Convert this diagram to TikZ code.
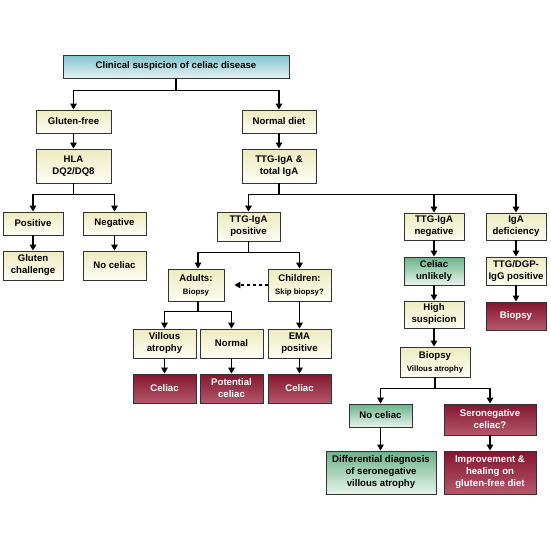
\documentclass[tikz,border=0pt]{standalone}
\usepackage{fontspec}
\setmainfont{Liberation Sans}
\usetikzlibrary{arrows.meta}
\definecolor{yelTop}{RGB}{237,235,190}
\definecolor{yelBot}{RGB}{253,253,244}
\definecolor{bluTop}{RGB}{128,196,205}
\definecolor{bluBot}{RGB}{228,241,242}
\definecolor{redTop}{RGB}{132,22,48}
\definecolor{redBot}{RGB}{180,88,106}
\definecolor{grnTop}{RGB}{106,178,138}
\definecolor{grnBot}{RGB}{232,243,235}
\definecolor{edge}{RGB}{50,50,50}
\newcommand{\smalltxt}{\fontsize{7.8}{9.5}\selectfont}
\begin{document}
\begin{tikzpicture}[x=1pt,y=-1pt,
  box/.style={draw=edge, line width=0.9pt, align=center, inner sep=1pt,
    font=\bfseries\fontsize{9.6}{12}\selectfont},
  yel/.style={box, top color=yelTop, bottom color=yelBot},
  blu/.style={box, top color=bluTop, bottom color=bluBot},
  red/.style={box, top color=redTop, bottom color=redBot, text=white},
  grn/.style={box, top color=grnTop, bottom color=grnBot},
  sz/.style 2 args={minimum width=#1pt, minimum height=#2pt},
  arr/.style={line width=1.6pt, -{Triangle[length=6pt,width=6.5pt]}},
  ln/.style={line width=1.6pt}
]
\useasboundingbox (0,0) rectangle (550,550);

% nodes
\node[blu, sz={226}{23}] (top) at (176,66.5) {Clinical suspicion of celiac disease};
\node[yel, sz={75}{23}] (gf) at (73.5,121.5) {Gluten-free};
\node[yel, sz={75}{34}] (hla) at (73.5,166) {HLA\\DQ2/DQ8};
\node[yel, sz={74}{23}] (nd) at (279,121.5) {Normal diet};
\node[yel, sz={74}{34}] (tt) at (279,166) {TTG-IgA \&\\total IgA};

\node[yel, sz={60}{23}] (pos) at (33,223.5) {Positive};
\node[yel, sz={63}{23}] (neg) at (114.5,223.5) {Negative};
\node[yel, sz={60}{29}] (gch) at (33,265.5) {Gluten\\challenge};
\node[yel, sz={63}{29}] (nc1) at (114.5,265.5) {No celiac};

\node[yel, sz={63}{29}] (tpos) at (248.5,226.5) {TTG-IgA\\positive};
\node[yel, sz={56}{32}] (adu) at (196,285) {Adults:\\[1pt]{\smalltxt Biopsy}};
\node[yel, sz={63}{32}] (chi) at (299.5,285) {Children:\\[1pt]{\smalltxt Skip biopsy?}};
\node[yel, sz={63}{29}] (vil) at (164.5,343.5) {Villous\\atrophy};
\node[yel, sz={63}{29}] (nor) at (231.5,343.5) {Normal};
\node[yel, sz={63}{29}] (ema) at (299.5,343.5) {EMA\\positive};
\node[red, sz={63}{29}] (cel1) at (164.5,388.5) {Celiac};
\node[red, sz={63}{29}] (pot) at (231.5,388.5) {Potential\\celiac};
\node[red, sz={63}{29}] (cel2) at (299.5,388.5) {Celiac};

\node[yel, sz={60}{27}] (tneg) at (434,226.5) {TTG-IgA\\negative};
\node[yel, sz={60}{27}] (iga) at (516,226.5) {IgA\\deficiency};
\node[grn, sz={60}{28}] (unl) at (434,271) {Celiac\\unlikely};
\node[yel, sz={60}{28}] (dgp) at (516,271) {TTG/DGP-\\IgG positive};
\node[yel, sz={60}{27}] (hs) at (434,314.5) {High\\suspicion};
\node[red, sz={60}{28}] (bio) at (516,316) {Biopsy};
\node[yel, sz={70}{30}] (bva) at (435,362) {Biopsy\\[1pt]{\smalltxt Villous atrophy}};
\node[grn, sz={63}{23}] (nc2) at (380.5,415.5) {No celiac};
\node[red, sz={92}{31}] (sero) at (490,419.5) {Seronegative\\celiac?};
\node[grn, sz={110}{43}] (diff) at (381,472.5) {\fontsize{9.6}{11.5}\selectfont Differential diagnosis\\of seronegative\\villous atrophy};
\node[red, sz={92}{43}] (imp) at (490,472.5) {\fontsize{9.6}{11.5}\selectfont Improvement \&\\healing on\\gluten-free diet};

% connectors
\coordinate (j1) at ([yshift=-12pt]top.south);
\draw[ln] (top.south) -- (j1);
\draw[arr] (j1) -| (gf.north);
\draw[arr] (j1) -| (nd.north);
\draw[arr] (gf) -- (hla);
\draw[arr] (nd) -- (tt);

\coordinate (j2) at ([yshift=-11pt]hla.south);
\draw[ln] (hla.south) -- (j2);
\draw[arr] (j2) -| (pos.north);
\draw[arr] (j2) -| (neg.north);
\draw[arr] (pos) -- (gch);
\draw[arr] (neg) -- (nc1);

\coordinate (j3) at ([yshift=-11pt]tt.south);
\draw[ln] (tt.south) -- (j3);
\draw[arr] (j3) -| (tpos.north);
\draw[arr] (j3) -| (tneg.north);
\draw[arr] (j3) -| (iga.north);

\coordinate (j4) at ([yshift=-11pt]tpos.south);
\draw[ln] (tpos.south) -- (j4);
\draw[arr] (j4) -| ([xshift=2pt]adu.north);
\draw[arr] (j4) -| (chi.north);
\draw[arr, dashed, line width=1.3pt, shorten >=10pt] (chi.west) -- (adu.east);

\coordinate (j5) at ([xshift=2pt,yshift=-10pt]adu.south);
\draw[ln] ([xshift=2pt]adu.south) -- (j5);
\draw[arr] (j5) -| (vil.north);
\draw[arr] (j5) -| (nor.north);
\draw[arr] (chi) -- (ema);
\draw[arr] (vil) -- (cel1);
\draw[arr] (nor) -- (pot);
\draw[arr] (ema) -- (cel2);

\draw[arr] (tneg) -- (unl);
\draw[arr] (unl) -- (hs);
\draw[arr] (hs.south) -- (hs.south |- bva.north);
\draw[arr] (iga) -- (dgp);
\draw[arr] (dgp) -- (bio);

\coordinate (j6) at ([yshift=-11pt]bva.south);
\draw[ln] (bva.south) -- (j6);
\draw[arr] (j6) -| (nc2.north);
\draw[arr] (j6) -| (sero.north);
\draw[arr] (nc2) -- (nc2 |- diff.north);
\draw[arr] (sero) -- (imp);
\end{tikzpicture}
\end{document}
